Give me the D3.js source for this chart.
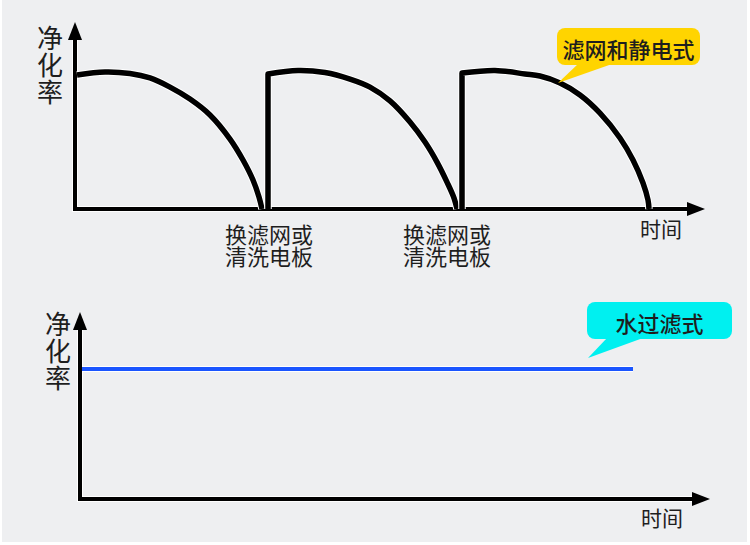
<!DOCTYPE html>
<html>
<head>
<meta charset="utf-8">
<script src="https://cdn.jsdelivr.net/npm/d3@7"></script>
<style>
  body { margin: 0; background: #fff; }
  svg { display: block; }
  text { font-family: "Noto Sans CJK SC", sans-serif; fill: #1e1e1e; }
</style>
</head>
<body>
<div id="chart"></div>
<script>
// top chart: filter / electrostatic, three cycles [time, rate]
const cycle1 = [[2, 71.7], [30, 73.3], [55, 72.5], [75, 70.1], [95, 65.2], [115, 58.8], [135, 50.3], [155, 37.4], [168, 26.2], [178, 15.5], [184, 6.4], [187, 0]];
const cycle2 = [[193, 72.2], [223, 74.1], [250, 73], [275, 69.5], [295, 65.2], [315, 57.8], [335, 46.5], [350, 35.8], [362, 25.1], [372, 14.4], [379, 5.9], [382, 0]];
const cycle3 = [[387, 72.7], [420, 74.1], [450, 72.2], [465, 71.1], [485, 67.4], [505, 61], [525, 51.3], [545, 38], [558, 26.2], [568, 13.9], [573, 4.8], [574, 0]];
const cycles = [cycle1, cycle2, cycle3];
const resetTimes = [188, 366]; // x of the "换滤网或清洗电板" labels
const resetLabel = ["换滤网或", "清洗电板"];

// bottom chart: water filter, flat rate
const waterLine = [[2, 69.5], [553, 69.5]];

const yLabel = "净化率";
const xLabel = "时间";
const topTag = "滤网和静电式";
const bottomTag = "水过滤式";

const width = 750, height = 545;
const svg = d3.select("#chart").append("svg")
  .attr("width", width)
  .attr("height", height);

svg.append("rect")
  .attr("x", 2).attr("y", 0)
  .attr("width", 745).attr("height", 542)
  .attr("fill", "#eeeff1");

function axes(g, x0, xTip, y0, yTip) {
  // white halo then black axis lines
  [["#fff", 6], ["#000", 4]].forEach(([c, w]) => {
    g.append("path")
      .attr("d", `M${x0},${yTip + 14}V${y0}H${xTip - 14}`)
      .attr("fill", "none")
      .attr("stroke", c)
      .attr("stroke-width", w);
  });
  g.append("path")
    .attr("d", `M${x0},${yTip}L${x0 - 7},${yTip + 18}L${x0 + 7},${yTip + 18}Z`)
    .attr("fill", "#000");
  g.append("path")
    .attr("d", `M${xTip},${y0}L${xTip - 18},${y0 - 7}L${xTip - 18},${y0 + 7}Z`)
    .attr("fill", "#000");
}

function verticalLabel(g, cx, topY) {
  g.append("text")
    .attr("x", cx)
    .attr("y", topY)
    .style("writing-mode", "vertical-rl")
    .style("font-size", "26px")
    .style("letter-spacing", "1px")
    .text(yLabel);
}

function callout(g, box, tip, base, fill, label) {
  const [bx, by, bw, bh] = box;
  g.append("path")
    .attr("d", `M${tip[0]},${tip[1]}L${base[0]},${by + bh - 1}L${base[1]},${by + bh - 1}Z`)
    .attr("fill", fill);
  g.append("rect")
    .attr("x", bx).attr("y", by)
    .attr("width", bw).attr("height", bh)
    .attr("rx", 8)
    .attr("fill", fill);
  g.append("text")
    .attr("x", bx + bw / 2)
    .attr("y", by + bh / 2 + 1)
    .attr("text-anchor", "middle")
    .attr("dominant-baseline", "central")
    .style("font-size", "22px")
    .style("font-weight", "500")
    .text(label);
}

// ---- top chart ----
const gTop = svg.append("g");
const x1 = d3.scaleLinear().domain([0, 630]).range([75, 705]);
const y1 = d3.scaleLinear().domain([0, 100]).range([209, 22]);

axes(gTop, 75, 705, 209, 22);

const arc = d3.line()
  .x(d => x1(d[0]))
  .y(d => y1(d[1]))
  .curve(d3.curveCatmullRom.alpha(0.5));

cycles.forEach((c, i) => {
  const rise = i === 0 ? "" : `M${x1(c[0][0])},${y1(0)}L${x1(c[0][0])},${y1(c[0][1])}`;
  const d = rise + (i === 0 ? arc(c) : arc(c).replace(/^M/, "L"));
  [["#fff", 7.5], ["#000", 5.5]].forEach(([col, w]) => {
    gTop.append("path")
      .attr("d", d)
      .attr("fill", "none")
      .attr("stroke", col)
      .attr("stroke-width", w)
      .attr("stroke-linejoin", "round");
  });
});

resetTimes.forEach(t => {
  resetLabel.forEach((line, j) => {
    gTop.append("text")
      .attr("x", x1(t) + 6)
      .attr("y", 233 + j * 22)
      .attr("text-anchor", "middle")
      .attr("dominant-baseline", "central")
      .style("font-size", "22px")
      .text(line);
  });
});

gTop.append("text")
  .attr("x", 661).attr("y", 228)
  .attr("text-anchor", "middle")
  .attr("dominant-baseline", "central")
  .style("font-size", "21px")
  .text(xLabel);

verticalLabel(gTop, 50, 25);
callout(gTop, [557, 28, 143, 37], [558, 83], [578, 612], "#ffd400", topTag);

// ---- bottom chart ----
const gBot = svg.append("g");
const x2 = d3.scaleLinear().domain([0, 630]).range([80, 710]);
const y2 = d3.scaleLinear().domain([0, 100]).range([499, 312]);

axes(gBot, 80, 710, 499, 312);

const flat = d3.line().x(d => x2(d[0])).y(d => y2(d[1]));
[["#fff", 6], ["#1a55ff", 4]].forEach(([col, w]) => {
  gBot.append("path")
    .attr("d", flat(waterLine))
    .attr("fill", "none")
    .attr("stroke", col)
    .attr("stroke-width", w);
});

gBot.append("text")
  .attr("x", 662).attr("y", 517)
  .attr("text-anchor", "middle")
  .attr("dominant-baseline", "central")
  .style("font-size", "21px")
  .text(xLabel);

verticalLabel(gBot, 58, 311);
callout(gBot, [587, 302, 145, 37], [588, 358], [607, 643], "#00f0f0", bottomTag);
</script>
</body>
</html>
